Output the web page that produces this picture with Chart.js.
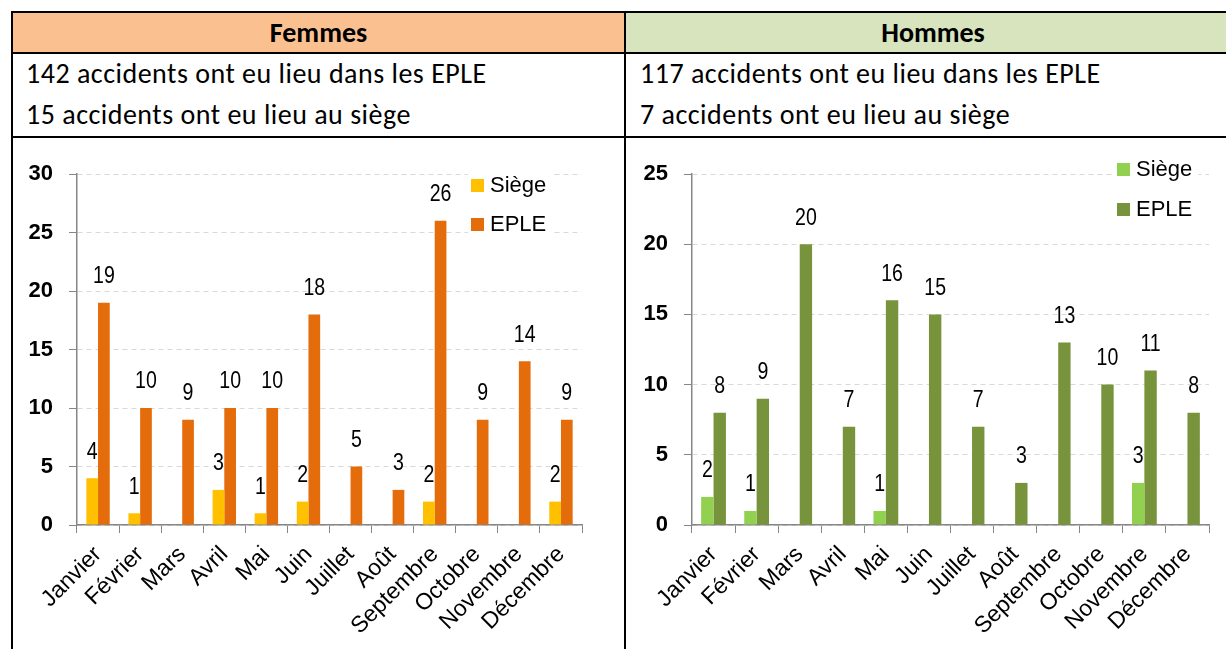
<!DOCTYPE html>
<html lang="fr">
<head>
<meta charset="utf-8">
<script src="https://cdn.jsdelivr.net/npm/chart.js@4.4.0/dist/chart.umd.min.js"></script>
<style>
  body { margin: 0; width: 1226px; height: 649px; overflow: hidden; position: relative; background: #fff;
         font-family: Carlito, Lato, "Liberation Sans", sans-serif; color: #000; }
  .line { position: absolute; background: #000; }
  .fill { position: absolute; }
  .head { position: absolute; font-weight: bold; font-size: 28px; text-align: center; line-height: 39px; }
  .txt { position: absolute; font-size: 28px; letter-spacing: 0.5px; white-space: nowrap; line-height: 30px; }
  .box { position: absolute; }
</style>
</head>
<body>
  <!-- cellules d'en-tête -->
  <div class="fill" style="left:13px;top:13px;width:611px;height:39px;background:#FAC090"></div>
  <div class="fill" style="left:626px;top:13px;width:600px;height:39px;background:#D7E4BD"></div>
  <div class="head" style="left:13px;top:13px;width:611px">Femmes</div>
  <div class="head" style="left:626px;top:13px;width:614px">Hommes</div>

  <div class="txt" style="left:26px;top:59px">142 accidents ont eu lieu dans les EPLE</div>
  <div class="txt" style="left:26px;top:100px">15 accidents ont eu lieu au siège</div>
  <div class="txt" style="left:640px;top:59px">117 accidents ont eu lieu dans les EPLE</div>
  <div class="txt" style="left:640px;top:100px">7 accidents ont eu lieu au siège</div>

  <!-- bordures du tableau -->
  <div class="line" style="left:11px;top:11px;width:1215px;height:2px"></div>
  <div class="line" style="left:11px;top:52px;width:1215px;height:2px"></div>
  <div class="line" style="left:11px;top:136px;width:1215px;height:2px"></div>
  <div class="line" style="left:11px;top:11px;width:2px;height:638px"></div>
  <div class="line" style="left:624px;top:11px;width:2px;height:638px"></div>

  <div class="box" style="left:14px;top:139px;width:608px;height:510px"><canvas id="chartFemmes"></canvas></div>
  <div class="box" style="left:628px;top:139px;width:598px;height:510px"><canvas id="chartHommes"></canvas></div>

<script>
// mois
const mois = ['Janvier', 'Février', 'Mars', 'Avril', 'Mai', 'Juin', 'Juillet', 'Août',
              'Septembre', 'Octobre', 'Novembre', 'Décembre'];

// accidents des femmes
const femmesSiege = [4, 1, null, 3, 1, 2, null, null, 2, null, null, 2];
const femmesEple  = [19, 10, 9, 10, 10, 18, 5, 3, 26, 9, 14, 9];

// accidents des hommes
const hommesSiege = [2, 1, null, null, 1, null, null, null, null, null, 3, null];
const hommesEple  = [8, 9, 20, 7, 16, 15, 7, 3, 13, 10, 11, 8];

// graduations des axes verticaux
const femmesTicks = [0, 5, 10, 15, 20, 25, 30];
const hommesTicks = [0, 5, 10, 15, 20, 25];

const sans = '"Liberation Sans", Arial, sans-serif';

// valeurs au-dessus des barres (police resserrée)
const valueLabels = {
    id: 'valueLabels',
    afterDatasetsDraw(chart) {
        const ctx = chart.ctx;
        chart.data.datasets.forEach((ds, i) => {
            chart.getDatasetMeta(i).data.forEach((bar, j) => {
                const v = ds.data[j];
                if (v == null) return;
                ctx.save();
                ctx.font = '23px ' + sans;
                ctx.fillStyle = '#000';
                ctx.textAlign = 'center';
                ctx.textBaseline = 'middle';
                ctx.translate(bar.x, bar.y - 26);
                ctx.scale(0.85, 1);
                ctx.fillText(String(v), 0, 0);
                ctx.restore();
            });
        });
    }
};

// légende dans le coin haut droit du graphique
const cornerLegend = {
    id: 'cornerLegend',
    afterDraw(chart, args, opts) {
        const { ctx, chartArea } = chart;
        ctx.save();
        ctx.font = '22px ' + sans;
        ctx.textBaseline = 'middle';
        const x = chartArea.right + opts.dx;
        const y0 = chartArea.top + opts.dy;
        chart.data.datasets.forEach((ds, i) => {
            const y = y0 + i * opts.gap;
            const w = ctx.measureText(ds.label).width;
            ctx.fillStyle = '#fff';
            ctx.fillRect(x - 3, y - 6, w + 28, 25);
        });
        chart.data.datasets.forEach((ds, i) => {
            const y = y0 + i * opts.gap;
            ctx.fillStyle = ds.backgroundColor;
            ctx.fillRect(x, y, 13, 13);
            ctx.fillStyle = '#000';
            ctx.fillText(ds.label, x + 19, y + 7);
        });
        ctx.restore();
    }
};

function makeChart(id, siege, eple, colSiege, colEple, ticks, cfg) {
    new Chart(document.getElementById(id), {
        type: 'bar',
        data: {
            labels: mois,
            datasets: [
                { label: 'Siège', data: siege, backgroundColor: colSiege },
                { label: 'EPLE', data: eple, backgroundColor: colEple }
            ]
        },
        options: {
            responsive: true,
            maintainAspectRatio: false,
            animation: false,
            categoryPercentage: cfg.catPct,
            barPercentage: 1,
            layout: { padding: { top: 35, right: cfg.padRight, left: 0, bottom: 0 } },
            plugins: {
                legend: { display: false },
                tooltip: { enabled: false },
                cornerLegend: cfg.legend
            },
            scales: {
                x: {
                    grid: { display: true, drawOnChartArea: false, drawTicks: true, tickLength: 8,
                            offset: true, color: '#868686', tickColor: '#868686' },
                    border: { color: '#868686', width: 1.5 },
                    ticks: { color: '#000', font: { family: sans, size: 23 },
                             minRotation: 45, maxRotation: 45, autoSkip: false, padding: 8 },
                    afterFit(scale) { scale.height = 124; }
                },
                y: {
                    min: 0,
                    max: ticks[ticks.length - 1],
                    afterBuildTicks(scale) { scale.ticks = ticks.map(v => ({ value: v })); },
                    grid: { color: '#D9D9D9', lineWidth: 1, tickLength: 8,
                            tickColor: '#868686', tickBorderDash: [] },
                    border: { color: '#868686', width: 1.5, dash: [5, 4] },
                    ticks: { color: '#000', padding: 16, font: { family: sans, size: 22, weight: 'bold' } },
                    afterFit(scale) { scale.width = cfg.yWidth; }
                }
            }
        },
        plugins: [valueLabels, cornerLegend]
    });
}

makeChart('chartFemmes', femmesSiege, femmesEple, '#FFC000', '#E46C0A', femmesTicks,
    { catPct: 0.556, padRight: 40, yWidth: 63, legend: { dx: -111, dy: 5, gap: 39 } });
makeChart('chartHommes', hommesSiege, hommesEple, '#92D050', '#77933C', hommesTicks,
    { catPct: 0.575, padRight: 17, yWidth: 64, legend: { dx: -92, dy: -11, gap: 40 } });
</script>
</body>
</html>
